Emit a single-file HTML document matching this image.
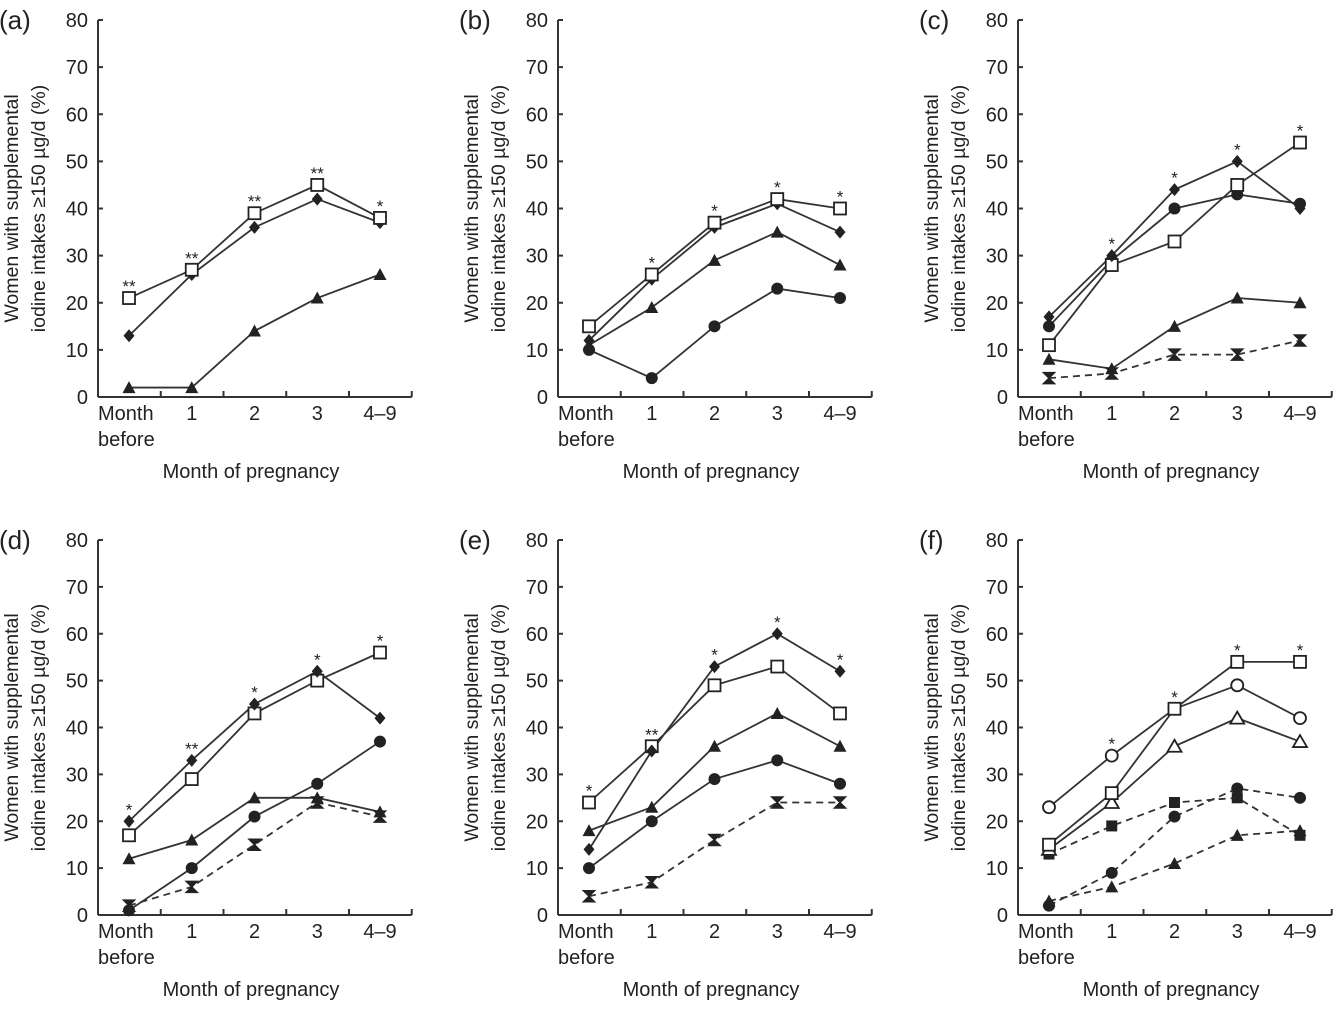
<!DOCTYPE html>
<html><head><meta charset="utf-8"><style>
body{margin:0;background:#fff;}
svg{display:block;font-family:"Liberation Sans",Arial,sans-serif;}
</style></head><body>
<svg id="fig" width="1335" height="1010" viewBox="0 0 1335 1010"></svg>
<script>
const categories=["Month before","1","2","3","4–9"];
const yTicks=[0,10,20,30,40,50,60,70,80];
const panelLabels=["(a)","(b)","(c)","(d)","(e)","(f)"];
const starsA=["**","**","**","**","*"];
const starsB=["","*","*","*","*"];
const starsC=["","*","*","*","*"];
const starsD=["*","**","*","*","*"];
const starsE=["*","**","*","*","*"];
const starsF=["","*","*","*","*"];
const aSquare=[21,27,39,45,38],aDiamond=[13,26,36,42,37],aTri=[2,2,14,21,26];
const bSquare=[15,26,37,42,40],bDiamond=[12,25,36,41,35],bTri=[11,19,29,35,28],bCircle=[10,4,15,23,21];
const cSquare=[11,28,33,45,54],cDiamond=[17,30,44,50,40],cCircle=[15,29,40,43,41],cTri=[8,6,15,21,20],cBow=[4,5,9,9,12];
const dSquare=[17,29,43,50,56],dDiamond=[20,33,45,52,42],dTri=[12,16,25,25,22],dCircle=[1,10,21,28,37],dBow=[2,6,15,24,21];
const eSquare=[24,36,49,53,43],eDiamond=[14,35,53,60,52],eTri=[18,23,36,43,36],eCircle=[10,20,29,33,28],eBow=[4,7,16,24,24];
const fSquare=[15,26,44,54,54],fOCircle=[23,34,44,49,42],fOTri=[14,24,36,42,37],fCircle=[2,9,21,27,25],fFSquare=[13,19,24,25,17],fTri=[3,6,11,17,18];

const panels=[
 {ax:98,y0:397,y80:20,stars:starsA,series:[[aTri,'tri',0],[aDiamond,'diamond',0],[aSquare,'osquare',0]]},
 {ax:558,y0:397,y80:20,stars:starsB,series:[[bCircle,'circle',0],[bTri,'tri',0],[bDiamond,'diamond',0],[bSquare,'osquare',0]]},
 {ax:1018,y0:397,y80:20,stars:starsC,series:[[cBow,'bow',1],[cTri,'tri',0],[cCircle,'circle',0],[cSquare,'osquare',0],[cDiamond,'diamond',0]]},
 {ax:98,y0:915,y80:540,stars:starsD,series:[[dBow,'bow',1],[dCircle,'circle',0],[dTri,'tri',0],[dSquare,'osquare',0],[dDiamond,'diamond',0]]},
 {ax:558,y0:915,y80:540,stars:starsE,series:[[eBow,'bow',1],[eCircle,'circle',0],[eTri,'tri',0],[eSquare,'osquare',0],[eDiamond,'diamond',0]]},
 {ax:1018,y0:915,y80:540,stars:starsF,series:[[fTri,'tri',1],[fFSquare,'fsquare',1],[fCircle,'circle',1],[fOTri,'otri',0],[fOCircle,'ocircle',0],[fSquare,'osquare',0]]}
];
const NS="http://www.w3.org/2000/svg";
const svg=document.getElementById('fig');
function mk(tag,attrs,parent,txt){const e=document.createElementNS(NS,tag);for(const k in attrs)e.setAttribute(k,attrs[k]);if(txt!==undefined)e.textContent=txt;(parent||svg).appendChild(e);return e;}
function marker(g,type,x,y){
 let e;
 if(type==='osquare'){e=mk('rect',{x:x-6,y:y-6,width:12,height:12,fill:'#fff',stroke:'#222','stroke-width':1.8},g);}
 else if(type==='fsquare'){e=mk('rect',{x:x-5.5,y:y-5.5,width:11,height:11,fill:'#222'},g);}
 else if(type==='diamond'){e=mk('polygon',{points:`${x},${y-6.5} ${x+5.5},${y} ${x},${y+6.5} ${x-5.5},${y}`,fill:'#222'},g);}
 else if(type==='tri'){e=mk('polygon',{points:`${x},${y-6.5} ${x+6.5},${y+5.5} ${x-6.5},${y+5.5}`,fill:'#222'},g);}
 else if(type==='otri'){e=mk('polygon',{points:`${x},${y-6.5} ${x+7},${y+5.5} ${x-7},${y+5.5}`,fill:'#fff',stroke:'#222','stroke-width':1.8},g);}
 else if(type==='circle'){e=mk('circle',{cx:x,cy:y,r:6,fill:'#222'},g);}
 else if(type==='ocircle'){e=mk('circle',{cx:x,cy:y,r:6,fill:'#fff',stroke:'#222','stroke-width':1.8},g);}
 else if(type==='bow'){e=mk('polygon',{points:`${x-5.5},${y-5.5} ${x+5.5},${y-5.5} ${x},${y} ${x+5.5},${y+5.5} ${x-5.5},${y+5.5} ${x},${y}`,fill:'#222',stroke:'#222','stroke-width':1.5},g);}
 
 
}
panels.forEach((p,pi)=>{
 const g=mk('g',{});
 
 
 const sx=62.75, xr=p.ax+5*sx-1;
 const X=i=>p.ax+31+i*sx;
 const Y=v=>p.y0-(v/80)*(p.y0-p.y80);
 const lab=mk('text',{x:p.ax-99,y:p.y80+9,'font-size':26,fill:'#222'},g,panelLabels[pi]);
 
 const ya=mk('line',{x1:p.ax,y1:p.y80,x2:p.ax,y2:p.y0,stroke:'#333','stroke-width':2},g);
 
 yTicks.forEach(t=>{
  mk('line',{x1:p.ax,y1:Y(t),x2:p.ax+5,y2:Y(t),stroke:'#333','stroke-width':2},g);
  const tl=mk('text',{x:p.ax-10,y:Y(t)+7,'font-size':20,'text-anchor':'end',fill:'#222'},g,String(t));
  
 });
 const xa=mk('line',{x1:p.ax,y1:p.y0,x2:xr+1,y2:p.y0,stroke:'#333','stroke-width':2},g);
 
 for(let i=1;i<=5;i++){const tx=p.ax+i*sx;mk('line',{x1:tx,y1:p.y0,x2:tx,y2:p.y0-6,stroke:'#333','stroke-width':2},g);}
 categories.forEach((c,i)=>{
  if(c==='Month before'){
   const t=mk('text',{x:X(i)-31,y:p.y0+23,'font-size':20,fill:'#222'},g,'Month');
   
   const t2=mk('text',{x:X(i)-31,y:p.y0+49,'font-size':20,fill:'#222'},g,'before');
   
  } else {
   const t=mk('text',{x:X(i),y:p.y0+23,'font-size':20,'text-anchor':'middle',fill:'#222'},g,c);
   
  }
 });
 const xt=mk('text',{x:p.ax+153,y:p.y0+81,'font-size':20,'text-anchor':'middle',fill:'#222'},g,'Month of pregnancy');
 
 const cy=(p.y0+p.y80)/2;
 const yt=mk('text',{transform:`translate(${p.ax-80},${cy}) rotate(-90)`,'font-size':19.5,'text-anchor':'middle',fill:'#222'},g);
 
 mk('tspan',{x:0,y:0},yt,'Women with supplemental');
 mk('tspan',{x:0,y:27},yt,'iodine intakes ≥150 µg/d (%)');
 p.series.forEach(([vals,type,dash])=>{
  const pl=mk('polyline',{points:vals.map((v,i)=>X(i)+','+Y(v)).join(' '),fill:'none',stroke:'#333','stroke-width':1.8,'stroke-dasharray':dash?'7,5':'none'},g);
  
 });
 p.series.forEach(([vals,type])=>vals.forEach((v,i)=>marker(g,type,X(i),Y(v))));
 p.stars.forEach((s,i)=>{
  if(!s)return;
  const mx=Math.max(...p.series.map(s=>s[0][i]));
  const st=mk('text',{x:X(i),y:Y(mx)-6,'font-size':17,'text-anchor':'middle',fill:'#222'},g,s);
  
 });
});
</script>
</body></html>
